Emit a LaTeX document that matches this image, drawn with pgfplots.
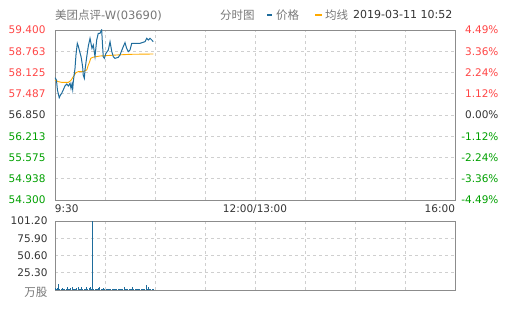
\documentclass[border=0pt]{standalone}
\usepackage{pgfplots}
\pgfplotsset{compat=1.18}
\usepackage{fontspec}
\setmainfont{DejaVu Sans}
\newfontfamily\cjk{Noto Sans CJK SC}
\definecolor{cred}{HTML}{FF4545}
\definecolor{cgreen}{HTML}{00A000}
\definecolor{cgray}{HTML}{333333}
\definecolor{lgray}{HTML}{777777}
\definecolor{cblue}{HTML}{1E6C9C}
\definecolor{corange}{HTML}{FFAA00}
\definecolor{frame}{HTML}{8C8C8C}
\definecolor{gridc}{HTML}{CFCFCF}
\begin{document}
\begin{tikzpicture}[x=1pt,y=1pt]
\path[use as bounding box] (0,0) rectangle (505,310);
% header
\node[anchor=west,text=lgray,inner sep=0pt,font=\fontsize{11.5}{13}\selectfont] at (55,295) {{\cjk 美团点评}-W(03690)};
\node[anchor=west,text=lgray,inner sep=0pt,font=\fontsize{11.5}{13}\selectfont] at (220,295) {\cjk 分时图};
\draw[cblue,line width=1.2pt] (267,295) -- (272,295);
\node[anchor=west,text=lgray,inner sep=0pt,font=\fontsize{11.5}{13}\selectfont] at (276,295) {\cjk 价格};
\draw[corange,line width=1.2pt] (315,295) -- (322,295);
\node[anchor=west,text=lgray,inner sep=0pt,font=\fontsize{11.5}{13}\selectfont] at (325,295) {\cjk 均线};
\node[anchor=west,text=cgray,inner sep=0pt,font=\fontsize{11}{13}\selectfont] at (353,295) {2019-03-11 10:52};
% main price axis
\begin{axis}[at={(55pt,110pt)}, anchor=south west, width=400pt, height=170pt, scale only axis,
  xmin=0, xmax=330, ymin=54.3, ymax=59.4,
  xtick={0,41.25,82.5,123.75,165,206.25,247.5,288.75,330},
  xticklabels={\makebox[0pt][l]{9:30},,,,12:00/13:00,,,,\makebox[0pt][r]{16:00}},
  ytick={54.3,54.9375,55.575,56.2125,56.85,57.4875,58.125,58.7625,59.4},
  yticklabels={\color{cgreen}54.300,\color{cgreen}54.938,\color{cgreen}55.575,\color{cgreen}56.213,\color{cgray}56.850,\color{cred}57.487,\color{cred}58.125,\color{cred}58.763,\color{cred}59.400},
  grid=major, major grid style={dashed, gridc, line width=0.6pt},
  axis line style={frame, line width=0.8pt},
  major tick length=0pt,
  tick label style={font=\fontsize{10.5}{12}\selectfont, text=cgray},
  yticklabel style={xshift=-6pt},
  xticklabel style={anchor=north, yshift=-1pt},
  clip=true]
\addplot[corange, line width=0.9pt] coordinates {
(0,57.90) (2.7,57.85) (5.5,57.83) (11,57.83) (13,57.88) (15.1,58.00) (17.3,58.12) (19.2,58.15) (23.3,58.15) (26.2,58.20) (27.5,58.35) (28.3,58.42) (29.5,58.55) (31.1,58.58) (37.1,58.62) (50.9,58.65) (61.9,58.67) (81.1,58.68)
};
\addplot[cblue, line width=1.0pt] coordinates {
(0,57.97) (1.2,57.90) (2,57.60) (3.5,57.37) (4.5,57.45) (5.5,57.50) (6.8,57.60) (8.2,57.72) (9.7,57.78) (11,57.72) (12.4,57.80) (13.2,57.65) (14,57.78) (14.6,57.62) (15.1,57.85) (16.5,58.25) (17.3,58.65) (18.4,59.00) (19.2,58.92) (20.6,58.72) (21.5,58.60) (22.8,58.30) (23.3,58.05) (24.2,57.95) (24.75,58.20) (26.2,58.60) (27.5,58.92) (28.9,59.15) (29.7,59.00) (30.5,58.85) (31.6,58.95) (33,58.60) (34.4,59.10) (35.7,59.30) (37.1,59.30) (38.5,59.40) (39.3,58.90) (39.8,58.60) (40.7,58.55) (42,58.70) (44,58.80) (45.4,59.05) (46.8,58.76) (48.1,58.60) (49.5,58.55) (52.2,58.58) (53.6,58.65) (56.3,58.90) (57.75,59.02) (59.1,58.85) (60.5,58.75) (61.9,58.80) (63.3,59.00) (66,59.00) (70.1,59.00) (74.3,59.05) (75.7,59.15) (77,59.10) (78.4,59.15) (79.8,59.10) (81.1,59.05)
};
\end{axis}
% right percentage axis
\begin{axis}[at={(55pt,110pt)}, anchor=south west, width=400pt, height=170pt, scale only axis,
  xmin=0, xmax=330, ymin=-4.49, ymax=4.49,
  axis x line=none, axis y line*=right, axis line style={draw=none},
  major tick length=0pt,
  ytick={-4.49,-3.3675,-2.245,-1.1225,0,1.1225,2.245,3.3675,4.49},
  yticklabels={\color{cgreen}-4.49\%,\color{cgreen}-3.36\%,\color{cgreen}-2.24\%,\color{cgreen}-1.12\%,\color{cgray}0.00\%,\color{cred}1.12\%,\color{cred}2.24\%,\color{cred}3.36\%,\color{cred}4.49\%},
  tick label style={font=\fontsize{10.5}{12}\selectfont},
  yticklabel style={anchor=east, xshift=47pt}]
\addplot[draw=none] coordinates {(0,0)};
\end{axis}
% volume axis
\begin{axis}[at={(55pt,20pt)}, anchor=south west, width=400pt, height=69pt, scale only axis,
  xmin=0, xmax=330, ymin=0, ymax=101.2,
  xtick={0,41.25,82.5,123.75,165,206.25,247.5,288.75,330}, xticklabels={},
  ytick={0,25.3,50.6,75.9,101.2},
  yticklabels={\raisebox{-7pt}[0pt][0pt]{\color{lgray}\cjk\fontsize{11.5}{13}\selectfont 万股},25.30,50.60,75.90,101.20},
  grid=major, major grid style={dashed, gridc, line width=0.6pt},
  axis line style={frame, line width=0.8pt},
  major tick length=0pt,
  tick label style={font=\fontsize{10.5}{12}\selectfont, text=cgray},
  yticklabel style={xshift=-4pt}]
\addplot[ycomb, cblue, line width=0.8pt] coordinates {
(0,3.5) (1,2.0) (2,2.5) (3,8.8) (4,2.2) (5,1.8) (6,2.5) (7,1.5) (8,2.0) (9,1.8) (10,4.8) (11,2.2) (12,1.8) (13,2.6) (14,4.0) (15,2.0) (16,1.5) (17,2.2) (18,2.5) (19,4.8) (20,2.0) (21,1.8) (22,3.8) (23,1.6) (24,2.0) (25,1.8) (26,4.0) (27,2.0) (28,2.5) (29,4.8) (30,2.2) (31,101.2) (32,2.0) (33,1.5) (34,2.2) (35,1.8) (36,2.5) (37,4.0) (38,1.8) (39,1.5) (40,2.9) (41,1.5) (42,1.2) (43,1.5) (44,1.8) (45,1.2) (46,1.5) (47,1.2) (48,1.5) (49,1.8) (50,1.2) (51,1.5) (52,1.3) (53,1.8) (54,1.5) (55,1.2) (56,2.0) (57,4.8) (58,1.5) (59,1.8) (60,1.3) (61,1.5) (62,2.0) (63,1.5) (64,4.0) (65,1.5) (66,1.8) (67,1.3) (68,1.5) (69,2.0) (70,1.6) (71,1.4) (72,1.8) (73,1.5) (74,2.0) (75,7.3) (76,2.2) (77,4.8) (78,2.0) (79,1.5) (80,1.8) (81,1.3)
};
\end{axis}
\end{tikzpicture}
\end{document}
